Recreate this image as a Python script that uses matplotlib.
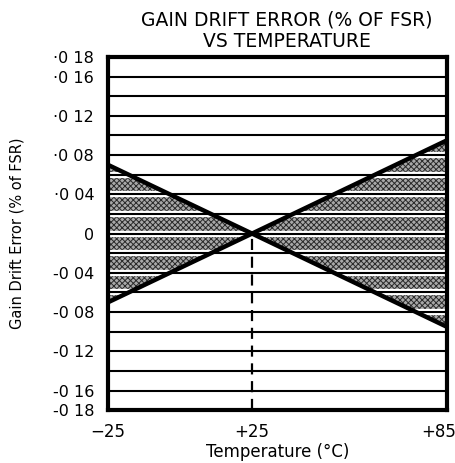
import numpy as np
import matplotlib
matplotlib.use('Agg')
import matplotlib.pyplot as plt
from matplotlib.transforms import ScaledTranslation

plt.rcParams['font.family'] = ['DejaVu Sans']
plt.rcParams['hatch.color'] = '#2a2a2a'
plt.rcParams['hatch.linewidth'] = 0.7

# temperature axis of the datasheet is not linear: tick positions as drawn
temp_ticks = [-25, 25, 85]
temp_labels = ['\u221225', '+25', '+85']
temp_pos = [0.0, 0.425, 1.0]

# error envelope (% of FSR)
temp = [-25, 25, 85]
upper = [0.07, 0.0, 0.095]
lower = [-0.07, 0.0, -0.095]

ytick_vals = [0.18, 0.16, 0.12, 0.08, 0.04, 0, -0.04, -0.08, -0.12, -0.16, -0.18]
ytick_labels = ['\u00b70 18', '\u00b70 16', '\u00b70 12', '\u00b70 08', '\u00b70 04', '0',
                '-0 04', '-0 08', '-0 12', '-0 16', '-0 18']
grid_vals = np.round(np.arange(-0.16, 0.161, 0.02), 2)


def fwd(x):
    return np.interp(x, temp_ticks, temp_pos, left=-1e3, right=1e3)


def inv(p):
    return np.interp(p, temp_pos, temp_ticks)


fig = plt.figure(figsize=(4.56, 4.63), dpi=100)
ax = fig.add_axes([0.237, 0.114, 0.743, 0.763])
ax.set_xscale('function', functions=(fwd, inv))
ax.set_xlim(-25, 85)
ax.set_ylim(-0.18, 0.18)

ax.fill_between(temp, lower, upper, facecolor='#a8a8a8', hatch='xxxxxx',
                edgecolor='none', linewidth=0, zorder=1)

for g in grid_vals:
    ax.axhline(g, color='white', lw=4.5, zorder=2)
    ax.axhline(g, color='black', lw=1.5, zorder=3)

ax.plot(temp, upper, color='black', lw=3.2, zorder=4, solid_capstyle='butt')
ax.plot(temp, lower, color='black', lw=3.2, zorder=4, solid_capstyle='butt')
ax.plot([25, 25], [-0.18, 0], color='black', lw=1.6, ls=(0, (5, 3)), zorder=4)

for s in ax.spines.values():
    s.set_linewidth(3)
    s.set_zorder(5)

ax.set_xticks(temp_ticks)
ax.set_xticklabels(temp_labels, fontsize=12)
ax.tick_params(axis='x', length=0, pad=9)
# nudge the last label so it stays inside the figure edge
last = ax.get_xticklabels()[-1]
last.set_transform(last.get_transform() + ScaledTranslation(-8 / 100, 0, fig.dpi_scale_trans))
ax.set_yticks(ytick_vals)
ax.set_yticklabels(ytick_labels, fontsize=11.5)
ax.tick_params(axis='y', length=0, pad=10)
ax.minorticks_off()

ax.set_xlabel('Temperature (\u00b0C)', fontsize=12, labelpad=2)
ax.set_ylabel('Gain Drift Error (% of FSR)', fontsize=10.5, labelpad=20)
ax.set_title('GAIN DRIFT ERROR (% OF FSR)\nVS TEMPERATURE', fontsize=13.5,
             linespacing=1.15, pad=7, x=0.528)

fig.savefig('out.png', dpi=100)
